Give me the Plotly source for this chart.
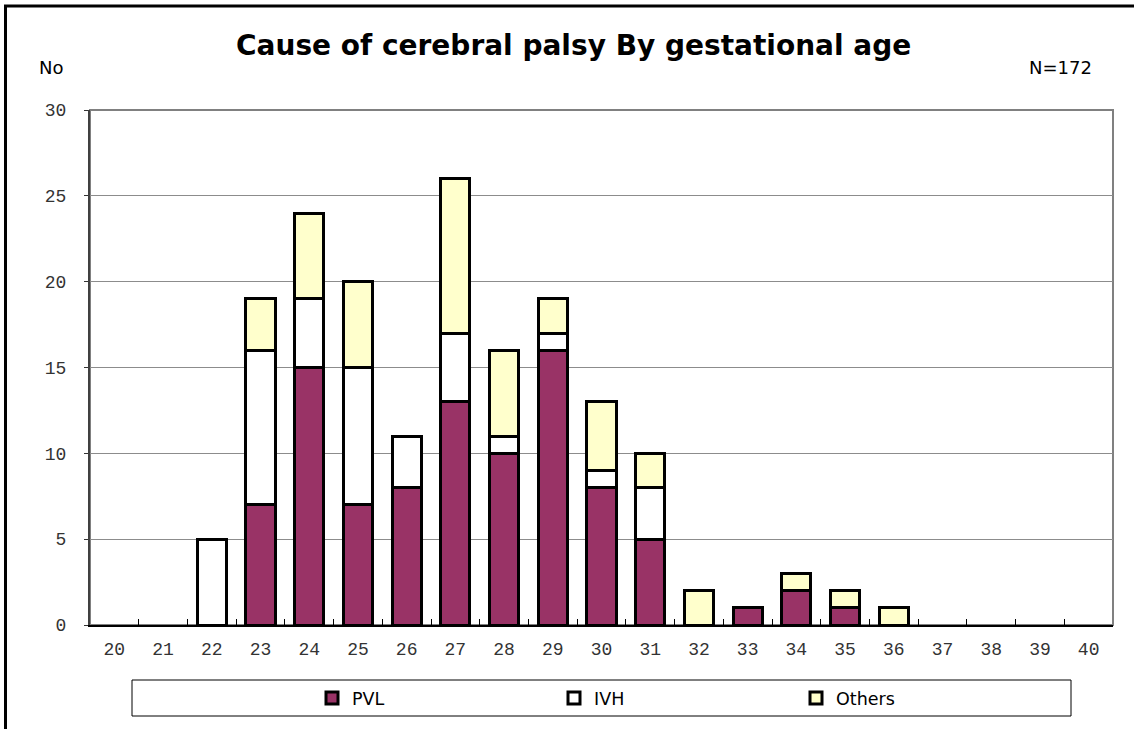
import plotly.graph_objects as go

# Gestational age (weeks) and number of cerebral palsy cases by cause
ages = [str(a) for a in range(20, 41)]
pvl = [0, 0, 0, 7, 15, 7, 8, 13, 10, 16, 8, 5, 0, 1, 2, 1, 0, 0, 0, 0, 0]
ivh = [0, 0, 5, 9, 4, 8, 3, 4, 1, 1, 1, 3, 0, 0, 0, 0, 0, 0, 0, 0, 0]
others = [0, 0, 0, 3, 5, 5, 0, 9, 5, 2, 4, 2, 2, 0, 1, 1, 1, 0, 0, 0, 0]

series = [
    ("PVL", pvl, "#993366"),
    ("IVH", ivh, "#FFFFFF"),
    ("Others", others, "#FFFFCC"),
]

W, H = 1134, 729
L, R, T, B = 90, 21, 110, 104
PW, PH = W - L - R, H - T - B


def fx(x):
    """pixel x -> paper fraction"""
    return (x - L) / PW


def fy(y):
    """pixel y (from top) -> paper fraction"""
    return (H - B - y) / PH


SANS = "DejaVu Sans, Verdana, sans-serif"
MONO = "Liberation Mono, Courier New, monospace"

fig = go.Figure()
for name, vals, color in series:
    # empty segments are left out so no outline is drawn for them
    fig.add_trace(go.Bar(
        x=ages, y=[v if v else None for v in vals], name=name,
        marker=dict(color=color, line=dict(color="#000000", width=3)),
    ))

fig.update_layout(
    width=W, height=H,
    margin=dict(l=L, r=R, t=T, b=B, pad=0),
    paper_bgcolor="white", plot_bgcolor="white",
    barmode="stack", bargap=0.4,
    showlegend=True,
    legend=dict(
        orientation="h", traceorder="normal",
        xref="container", yref="container",
        x=(332 - 20) / W, xanchor="left",
        y=(H - 698) / H, yanchor="middle",
        entrywidth=197, entrywidthmode="pixels",
        font=dict(family=SANS, size=17.5, color="#000000"),
        bgcolor="rgba(0,0,0,0)", borderwidth=0,
        itemclick=False, itemdoubleclick=False,
    ),
    xaxis=dict(
        type="category", tickson="boundaries",
        ticks="inside", ticklen=6, tickwidth=1, tickcolor="#000000",
        showline=True, linecolor="#000000", linewidth=2,
        showgrid=False, zeroline=False,
        tickfont=dict(family=MONO, size=18, color="#333333"),
        ticklabelstandoff=6,
        fixedrange=True,
    ),
    yaxis=dict(
        range=[0, 30], dtick=5, tick0=0,
        ticks="outside", ticklen=4, tickwidth=1, tickcolor="#333333",
        showline=True, linecolor="#404040", linewidth=2,
        showgrid=True, gridcolor="#8c8c8c", gridwidth=1,
        zeroline=False,
        tickfont=dict(family=MONO, size=18, color="#333333"),
        ticklabelstandoff=14,
        fixedrange=True,
    ),
)

shapes = [
    # grey frame of the plotting area (top and right edges)
    dict(type="rect", xref="paper", yref="paper", x0=0, x1=1, y0=0, y1=1,
         line=dict(color="#808080", width=2), fillcolor="rgba(0,0,0,0)",
         layer="below"),
    # legend box
    dict(type="rect", xref="paper", yref="paper",
         x0=fx(132), x1=fx(1071), y0=fy(716), y1=fy(680),
         line=dict(color="#000000", width=1), fillcolor="rgba(0,0,0,0)"),
    # outer chart frame: top and left edges
    dict(type="line", xref="paper", yref="paper",
         x0=fx(4), x1=fx(1134), y0=fy(6), y1=fy(6),
         line=dict(color="#000000", width=3)),
    dict(type="line", xref="paper", yref="paper",
         x0=fx(5.5), x1=fx(5.5), y0=fy(5), y1=fy(729),
         line=dict(color="#000000", width=3)),
]
fig.update_layout(shapes=shapes)

fig.add_annotation(
    text="<b>Cause of cerebral palsy By gestational age</b>",
    xref="paper", yref="paper", x=fx(573), y=fy(45),
    xanchor="center", yanchor="middle", showarrow=False,
    font=dict(family=SANS, size=28, color="#000000"),
)
fig.add_annotation(
    text="No", xref="paper", yref="paper", x=fx(37), y=fy(67),
    xanchor="left", yanchor="middle", showarrow=False,
    font=dict(family=SANS, size=18, color="#000000"),
)
fig.add_annotation(
    text="N=172", xref="paper", yref="paper", x=fx(1094), y=fy(67),
    xanchor="right", yanchor="middle", showarrow=False,
    font=dict(family=SANS, size=18, color="#000000"),
)

fig.write_html("out.html", config={"displayModeBar": False})
